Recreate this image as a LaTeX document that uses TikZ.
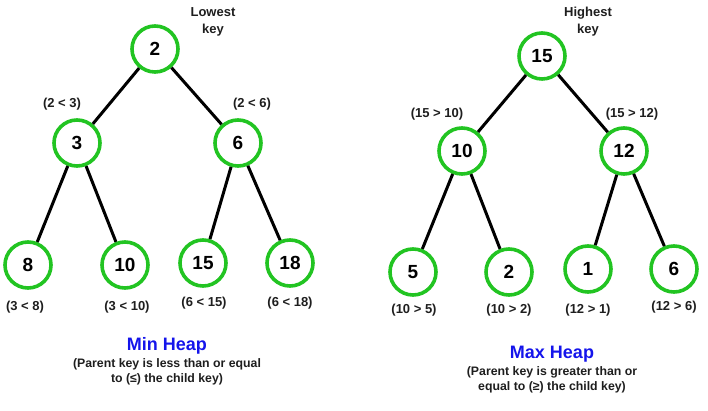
\documentclass[tikz,border=0pt]{standalone}
\usepackage{fontspec}
\setmainfont{Liberation Sans}
\definecolor{heapgreen}{RGB}{34,196,34}
\definecolor{heapblue}{RGB}{20,20,235}
\definecolor{txtgray}{RGB}{30,30,30}
\begin{document}
\begin{tikzpicture}[x=1pt,y=1pt,
  hnode/.style={circle,draw=heapgreen,line width=3.6pt,minimum size=46pt,inner sep=0pt,font=\fontsize{19}{21}\selectfont\bfseries},
  edge/.style={line width=3pt,black},
  lab/.style={font=\fontsize{13}{17}\selectfont\bfseries,text=txtgray,inner sep=0pt},
  ttl/.style={font=\fontsize{18}{20}\selectfont\bfseries,text=heapblue,inner sep=0pt},
  sub/.style={font=\fontsize{12.3}{15}\selectfont\bfseries,text=txtgray,align=center,inner sep=0pt}]
\useasboundingbox (0,0) rectangle (708,411);
% Min heap
\node[hnode] (a2) at (155,362) {2};
\node[hnode] (a3) at (77,268) {3};
\node[hnode] (a6) at (238,268) {6};
\node[hnode] (a8) at (28,146) {8};
\node[hnode] (a10) at (125,146) {10};
\node[hnode] (a15) at (203,148) {15};
\node[hnode] (a18) at (290,148) {18};
\draw[edge] (a2) -- (a3);
\draw[edge] (a2) -- (a6);
\draw[edge] (a3) -- (a8);
\draw[edge] (a3) -- (a10);
\draw[edge] (a6) -- (a15);
\draw[edge] (a6) -- (a18);
\node[lab,align=center] (lk) at (213,389) {Lowest\\key};
\node[lab] (l23) at (62,307) {(2 < 3)};
\node[lab] (l26) at (252,307) {(2 < 6)};
\node[lab] (l38) at (25,104) {(3 < 8)};
\node[lab] (l310) at (127,104) {(3 < 10)};
\node[lab] (l615) at (204,108) {(6 < 15)};
\node[lab] (l618) at (290,108) {(6 < 18)};
\node[ttl] (tmin) at (167,65) {Min Heap};
\node[sub] (smin) at (167,39) {(Parent key is less than or equal\\to (≤) the child key)};
% Max heap
\node[hnode] (b15) at (542,355) {15};
\node[hnode] (b10) at (462,260) {10};
\node[hnode] (b12) at (624,260) {12};
\node[hnode] (b5) at (413,139) {5};
\node[hnode] (b2) at (509,139) {2};
\node[hnode] (b1) at (588,142) {1};
\node[hnode] (b6) at (674,142) {6};
\draw[edge] (b15) -- (b10);
\draw[edge] (b15) -- (b12);
\draw[edge] (b10) -- (b5);
\draw[edge] (b10) -- (b2);
\draw[edge] (b12) -- (b1);
\draw[edge] (b12) -- (b6);
\node[lab,align=center] (hk) at (588,389) {Highest\\key};
\node[lab] (l1510) at (437,297) {(15 > 10)};
\node[lab] (l1512) at (632,297) {(15 > 12)};
\node[lab] (l105) at (414,101) {(10 > 5)};
\node[lab] (l102) at (509,101) {(10 > 2)};
\node[lab] (l121) at (588,101) {(12 > 1)};
\node[lab] (l126) at (674,104) {(12 > 6)};
\node[ttl] (tmax) at (552,57) {Max Heap};
\node[sub] (smax) at (552,31) {(Parent key is greater than or\\equal to (≥) the child key)};
\end{tikzpicture}
\end{document}
